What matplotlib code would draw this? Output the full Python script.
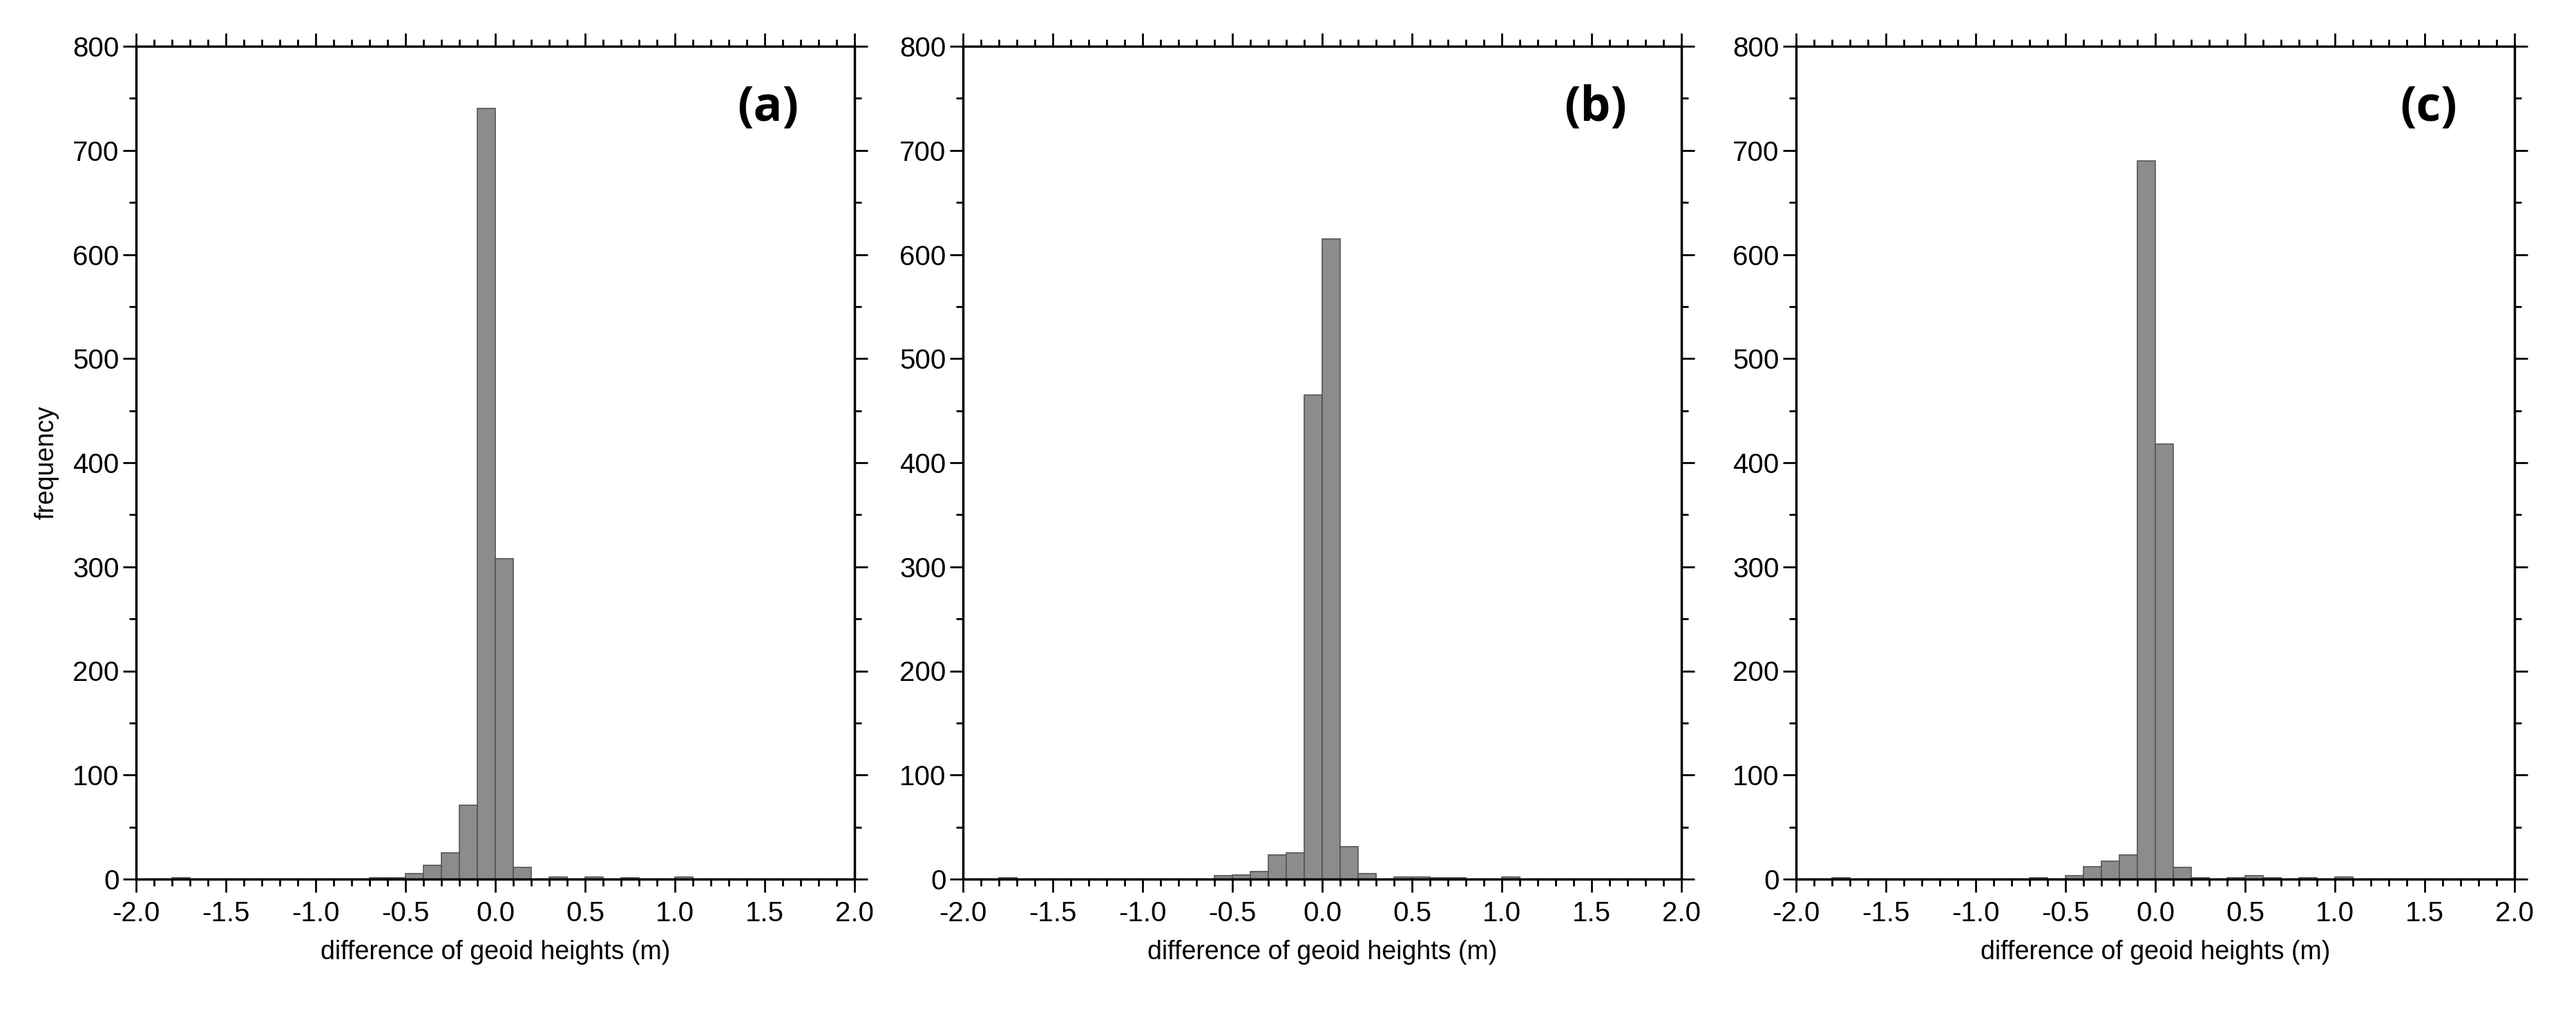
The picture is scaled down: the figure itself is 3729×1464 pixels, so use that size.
import matplotlib
matplotlib.use("Agg")
import matplotlib.pyplot as plt
import numpy as np
from matplotlib.ticker import MultipleLocator

bin_left = np.round(np.arange(-2.0, 2.0, 0.1), 2)
counts_a = [0,0,1,0,0,0,0,0,0,0,0,0,0,1,1,5,13,25,71,740,308,11,0,2,0,2,0,1,0,0,2,0,0,0,0,0,0,0,0,0]
counts_b = [0,0,1,0,0,0,0,0,0,0,0,0,0,0,3,4,7,23,25,465,615,31,5,0,2,2,1,1,0,0,2,0,0,0,0,0,0,0,0,0]
counts_c = [0,0,1,0,0,0,0,0,0,0,0,0,0,1,0,3,12,17,23,690,418,11,1,0,1,3,1,0,1,0,2,0,0,0,0,0,0,0,0,0]
panel_labels = ["(a)", "(b)", "(c)"]
xlabel = "difference of geoid heights (m)"
ylabel = "frequency"

plt.rcParams['font.family'] = ['Liberation Sans Narrow', 'Liberation Sans', 'DejaVu Sans']
fig = plt.figure(figsize=(37.30, 14.64), dpi=100)
lefts = [197/3730, 1394/3730, 2600/3730]
w = 1040/3730
bottom = 1 - 1273/1464
h = (1273-67)/1464
for i, counts in enumerate([counts_a, counts_b, counts_c]):
    ax = fig.add_axes([lefts[i], bottom, w, h])
    ax.bar(bin_left, counts, width=0.1, align='edge', color='#8c8c8c', edgecolor='#555555', linewidth=1.2)
    ax.set_xlim(-2, 2)
    ax.set_ylim(0, 800)
    ax.xaxis.set_major_locator(MultipleLocator(0.5))
    ax.xaxis.set_minor_locator(MultipleLocator(0.1))
    ax.yaxis.set_major_locator(MultipleLocator(100))
    ax.yaxis.set_minor_locator(MultipleLocator(50))
    ax.set_xticklabels([f"{v:.1f}" for v in ax.get_xticks()])
    ax.tick_params(which='both', direction='out', top=True, right=True, labelsize=29, width=2)
    ax.tick_params(which='major', length=14)
    ax.tick_params(which='minor', length=7)
    ax.tick_params(axis='y', which='both', right=True)
    ax.tick_params(axis='x', which='major', labeltop=False, pad=8)
    for s in ax.spines.values():
        s.set_linewidth(2.5)
    ax.set_xlabel(xlabel, fontsize=27, labelpad=14)
    if i == 0:
        ax.set_ylabel(ylabel, fontsize=27, labelpad=14)
    ax.text(0.88, 0.925, panel_labels[i], transform=ax.transAxes, fontsize=50,
            fontweight='bold', ha='center', va='center', family=['Open Sans', 'DejaVu Sans'])
fig.savefig("out.png", dpi=100)
